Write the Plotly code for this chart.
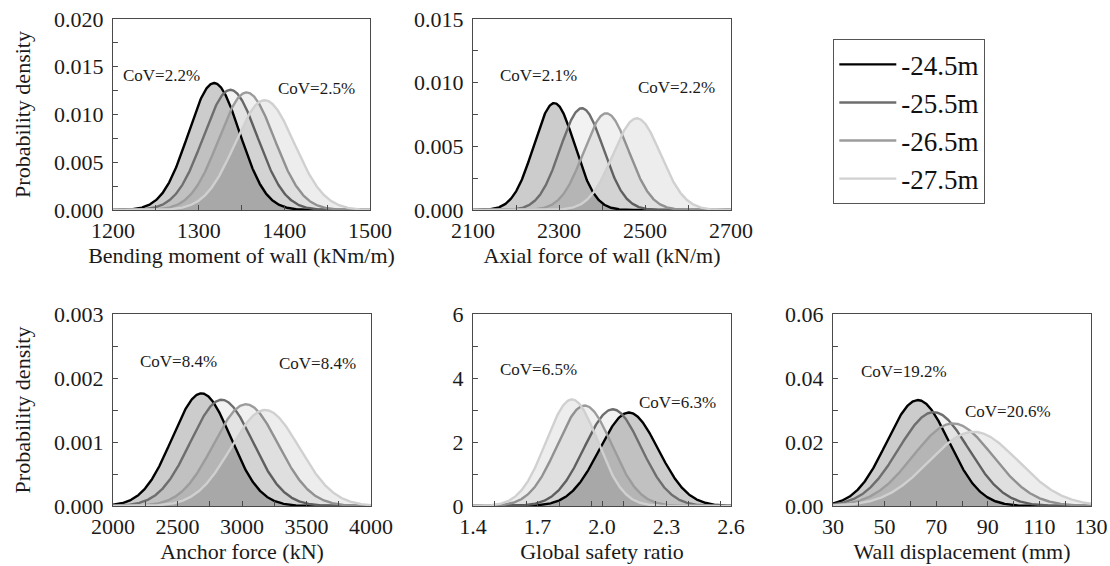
import numpy as np
import plotly.graph_objects as go

# ---------------- data ----------------
depth_labels = ["-24.5m", "-25.5m", "-26.5m", "-27.5m"]

# Bending moment of wall (kNm/m)
bm_mean = [1318, 1337, 1356, 1377]
bm_std = [30.0, 31.7, 32.4, 34.7]
# Axial force of wall (kN/m)
ax_mean = [2289, 2353, 2410, 2481]
ax_std = [47.5, 49.9, 52.5, 55.4]
# Anchor force (kN)
anc_mean = [2686, 2842, 3030, 3179]
anc_std = [226.7, 240.3, 251.0, 266.0]
# Global safety ratio
gsr_mean = [2.125, 2.05, 1.919, 1.860]
gsr_std = [0.1366, 0.132, 0.127, 0.1198]
# Wall displacement (mm)
disp_mean = [62.9, 69.0, 76.5, 84.5]
disp_std = [12.05, 13.6, 15.46, 17.2]

bm_cov = ["CoV=2.2%", "CoV=2.5%"]
ax_cov = ["CoV=2.1%", "CoV=2.2%"]
anc_cov = ["CoV=8.4%", "CoV=8.4%"]
gsr_cov = ["CoV=6.5%", "CoV=6.3%"]
disp_cov = ["CoV=19.2%", "CoV=20.6%"]

# ---------------- style ----------------
FONT = "Liberation Serif, Times New Roman, serif"
line_colors = ["#000000", "#6e6e6e", "#9c9c9c", "#d0d0d0"]
fill_colors = ["rgba(0,0,0,0.20)", "rgba(0,0,0,0.05)", "rgba(0,0,0,0.06)", "rgba(0,0,0,0.07)"]
W, H = 1110, 566

panels = [
    dict(mean=bm_mean, std=bm_std, xr=[1200, 1500], xd=100, yr=[0, 0.02], yd=0.005,
         yfmt=".3f", xfmt="d", title="Bending moment of wall (kNm/m)", ytitle=True,
         dom=(113, 370, 19, 210), cov=bm_cov, covpos=[(1257, 0.0141), (1437, 0.0127)]),
    dict(mean=ax_mean, std=ax_std, xr=[2100, 2700], xd=200, yr=[0, 0.015], yd=0.005,
         yfmt=".3f", xfmt="d", title="Axial force of wall (kN/m)", ytitle=False,
         dom=(473, 731, 19, 210), cov=ax_cov, covpos=[(2253, 0.0106), (2574, 0.00965)]),
    dict(mean=anc_mean, std=anc_std, xr=[2000, 4000], xd=500, yr=[0, 0.003], yd=0.001,
         yfmt=".3f", xfmt="d", title="Anchor force (kN)", ytitle=True,
         dom=(113, 371, 314, 506), cov=anc_cov, covpos=[(2505, 0.00225), (3585, 0.00223)]),
    dict(mean=gsr_mean, std=gsr_std, xr=[1.4, 2.6], xd=0.3, yr=[0, 6], yd=2,
         yfmt="d", xfmt=".1f", title="Global safety ratio", ytitle=False,
         dom=(473, 731, 314, 506), cov=gsr_cov, covpos=[(1.705, 4.25), (2.352, 3.23)]),
    dict(mean=disp_mean, std=disp_std, xr=[30, 130], xd=20, yr=[0, 0.06], yd=0.02,
         yfmt=".2f", xfmt="d", title="Wall displacement (mm)", ytitle=False,
         dom=(833, 1091, 314, 506), cov=disp_cov, covpos=[(57.4, 0.042), (97.7, 0.0294)]),
]

fig = go.Figure()
layout = dict(
    template="none",
    width=W, height=H, margin=dict(l=0, r=0, t=0, b=0, autoexpand=False),
    paper_bgcolor="white", plot_bgcolor="white",
    font=dict(family=FONT, size=22, color="#1a1a1a"),
    annotations=[],
)

for i, p in enumerate(panels):
    n = "" if i == 0 else str(i + 1)
    xa, ya = "x" + n, "y" + n
    x = np.linspace(p["xr"][0], p["xr"][1], 500)
    for k in range(4):
        mu, sd = p["mean"][k], p["std"][k]
        y = np.exp(-0.5 * ((x - mu) / sd) ** 2) / (sd * np.sqrt(2 * np.pi))
        fig.add_trace(go.Scatter(
            x=x, y=y, xaxis=xa, yaxis=ya, mode="lines", fill="tozeroy",
            fillcolor=fill_colors[k], line=dict(color=line_colors[k], width=2.4),
            showlegend=False, hoverinfo="skip"))
    l, r, t, b = p["dom"]
    axcommon = dict(showgrid=False, zeroline=False, showline=True, mirror=True,
                    automargin=False,
                    linecolor="#4a4a4a", linewidth=1.3, ticks="inside", ticklen=5,
                    tickcolor="#4a4a4a", tickwidth=1.2,
                    tickfont=dict(family=FONT, size=22, color="#1a1a1a"))
    layout["xaxis" + n] = dict(
        axcommon, domain=[l / W, r / W], anchor=ya, range=p["xr"], dtick=p["xd"],
        tick0=p["xr"][0], tickformat=p["xfmt"],
        minor=dict(ticks="inside", dtick=p["xd"] / 2, ticklen=5, tickcolor="#4a4a4a", tickwidth=1.2),
        title=dict(text=p["title"], font=dict(family=FONT, size=22, color="#1a1a1a"), standoff=4))
    layout["yaxis" + n] = dict(
        axcommon, domain=[1 - b / H, 1 - t / H], anchor=xa, range=p["yr"], dtick=p["yd"],
        tick0=0, tickformat=p["yfmt"], ticklabelstandoff=4,
        minor=dict(ticks="inside", dtick=p["yd"] / 2, ticklen=5, tickcolor="#4a4a4a", tickwidth=1.2),
        title=dict(text="Probability density" if p["ytitle"] else "",
                   font=dict(family=FONT, size=22, color="#1a1a1a"), standoff=17))
    for txt, (cx, cy) in zip(p["cov"], p["covpos"]):
        layout["annotations"].append(dict(
            x=cx, y=cy, xref=xa, yref=ya, text=txt, showarrow=False,
            font=dict(family=FONT, size=17, color="#1a1a1a")))

# legend entries (line samples only)
for k in range(4):
    fig.add_trace(go.Scatter(x=[None], y=[None], mode="lines", name=depth_labels[k],
                             line=dict(color=line_colors[k], width=2.4), showlegend=True))

layout["legend"] = dict(
    x=833 / W, y=1 - 39 / H, xanchor="left", yanchor="top",
    bordercolor="#555555", borderwidth=1.3, bgcolor="white",
    font=dict(family=FONT, size=27, color="#111111"), itemwidth=57, tracegroupgap=0,
    entrywidth=150, entrywidthmode="pixels")

fig.update_layout(**layout)
fig.write_html("out.html")
